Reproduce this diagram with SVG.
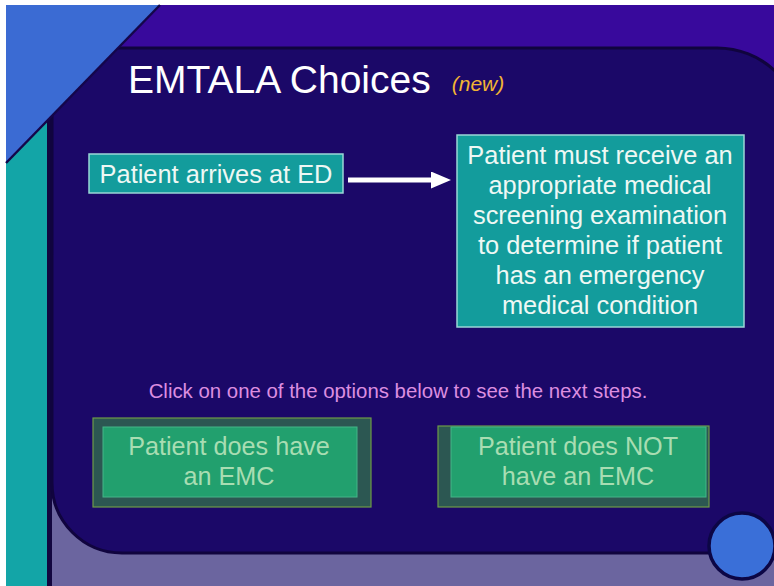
<svg xmlns="http://www.w3.org/2000/svg" width="774" height="586" viewBox="0 0 774 586">
  <defs>
    <style>
      .txt { font-family: "Liberation Sans", Arial, sans-serif; }
      .title { font-size: 39px; fill: #ffffff; }
      .tag { font-size: 21px; font-style: italic; fill: #f2b434; }
      .box { fill: #139c9c; stroke: #9ad6d6; stroke-width: 1.5; }
      .boxtxt { font-size: 25.4px; fill: #eef8f4; text-anchor: middle; }
      .hint { font-size: 20.4px; fill: #dc8ee0; text-anchor: middle; }
      .btn-frame { fill: #2c5752; stroke: #6e9a48; stroke-width: 1.2; }
      .btn-face { fill: #22a06e; stroke: #45b588; stroke-width: 1; }
      .btntxt { font-size: 25.2px; fill: #a8ddb2; text-anchor: middle; }
    </style>
    <marker id="arrowhead" markerUnits="userSpaceOnUse" markerWidth="21" markerHeight="18" refX="0" refY="8.5" orient="auto">
      <path d="M0,0 L20,8.5 L0,17 Z" fill="#ffffff"/>
    </marker>
  </defs>

  <!-- slide background -->
  <rect x="0" y="0" width="774" height="586" fill="#ffffff"/>
  <rect x="6" y="5" width="768" height="581" fill="#38099c"/>
  <rect x="52" y="400" width="722" height="186" fill="#6b659f"/>
  <!-- left teal band with dark edge -->
  <rect x="6" y="110" width="42" height="476" fill="#13a5a7"/>
  <rect x="47" y="110" width="5" height="476" fill="#12063f"/>
  <!-- dark content panel -->
  <path d="M52,48 H717 A85,85 0 0 1 802,133 V553 H122 A70,70 0 0 1 52,483 Z" fill="#1b0868" stroke="#10043e" stroke-width="3"/>
  <!-- blue corner triangle -->
  <polygon points="6,5 160,5 6,163" fill="#3b6bd3"/>
  <line x1="160" y1="5" x2="6" y2="163" stroke="#14064a" stroke-width="2.5"/>
  <!-- blue corner disc -->
  <circle cx="742" cy="546" r="33" fill="#3a6fd8" stroke="#0c0645" stroke-width="3.5"/>

  <!-- heading -->
  <g id="title" class="txt">
    <text class="title" x="128" y="93">EMTALA Choices</text>
    <text class="tag" x="478" y="91" text-anchor="middle">(new)</text>
  </g>

  <!-- flow nodes -->
  <g id="node-arrival" class="txt">
    <rect class="box" x="89" y="154" width="254" height="39"/>
    <text class="boxtxt" x="216" y="183">Patient arrives at ED</text>
  </g>

  <g id="node-screening" class="txt">
    <rect class="box" x="457" y="135" width="287" height="192"/>
    <text class="boxtxt" x="600" y="164">Patient must receive an</text>
    <text class="boxtxt" x="600" y="194">appropriate medical</text>
    <text class="boxtxt" x="600" y="224">screening examination</text>
    <text class="boxtxt" x="600" y="254">to determine if patient</text>
    <text class="boxtxt" x="600" y="284">has an emergency</text>
    <text class="boxtxt" x="600" y="314">medical condition</text>
  </g>

  <g id="connectors">
    <line x1="348" y1="180" x2="431" y2="180" stroke="#ffffff" stroke-width="5" marker-end="url(#arrowhead)"/>
  </g>

  <g id="instruction" class="txt">
    <text class="hint" x="398" y="398">Click on one of the options below to see the next steps.</text>
  </g>

  <!-- option buttons -->
  <g id="option-emc" class="txt">
    <rect class="btn-frame" x="93" y="418" width="278" height="89"/>
    <rect class="btn-face" x="103" y="427" width="254" height="70"/>
    <text class="btntxt" x="229" y="455">Patient does have</text>
    <text class="btntxt" x="229" y="485">an EMC</text>
  </g>

  <g id="option-no-emc" class="txt">
    <rect class="btn-frame" x="438" y="426" width="271" height="81"/>
    <rect class="btn-face" x="451" y="427" width="255" height="70"/>
    <text class="btntxt" x="578" y="455">Patient does NOT</text>
    <text class="btntxt" x="578" y="485">have an EMC</text>
  </g>
</svg>
